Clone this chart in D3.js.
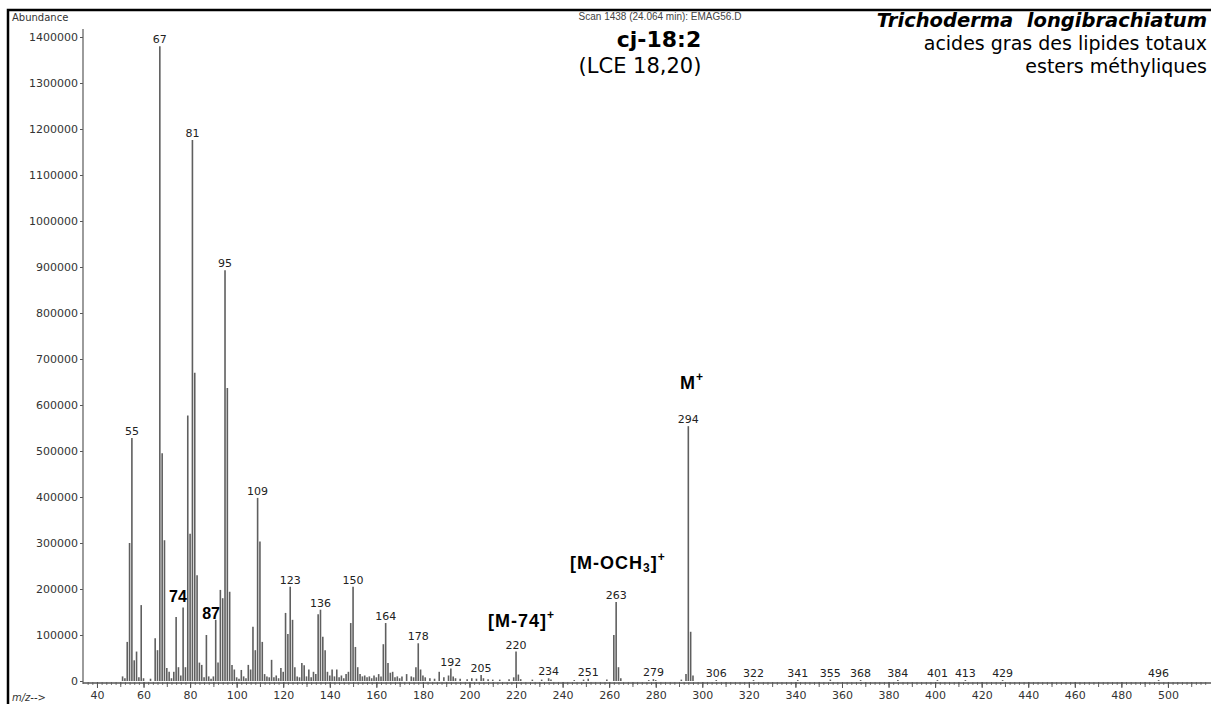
<!DOCTYPE html>
<html>
<head>
<meta charset="utf-8">
<script src="https://cdn.jsdelivr.net/npm/d3@7"></script>
<style>
  html, body { margin: 0; padding: 0; background: #fff; }
  svg { display: block; }
  .axisText { font-family: 'DejaVu Sans', sans-serif; font-size: 11px; fill: #333; }
  .peakLabel { font-family: 'DejaVu Sans', sans-serif; font-size: 11px; fill: #222; }
  .annot { font-family: 'Liberation Sans', Arial, sans-serif; font-size: 18px; font-weight: bold; fill: #000; letter-spacing: 1px; }
  .annot.small { font-size: 16px; letter-spacing: 0; }
</style>
</head>
<body>
<svg id="chart"></svg>
<script>
//
// Data
//

// m/z of every line and its abundance
const mzValues = [
  51, 52, 53, 54, 55, 56, 57, 58, 59, 60, 63, 65, 66, 67, 68, 69,
  70, 71, 72, 73, 74, 75, 76, 77, 78, 79, 80, 81, 82, 83, 84, 85, 86, 87, 88, 89,
  90, 91, 92, 93, 94, 95, 96, 97, 98, 99, 100, 101, 102, 103, 104, 105, 106, 107, 108, 109,
  110, 111, 112, 113, 114, 115, 116, 117, 118, 119, 120, 121, 122, 123, 124, 125, 126, 127, 128, 129,
  130, 131, 132, 133, 134, 135, 136, 137, 138, 139, 140, 141, 142, 143, 144, 145, 146, 147, 148, 149,
  150, 151, 152, 153, 154, 155, 156, 157, 158, 159, 160, 161, 162, 163, 164, 165, 166, 167, 168, 169,
  170, 171, 173, 175, 176, 177, 178, 179, 180, 181, 183, 185, 187, 189, 191, 192, 193, 194, 196, 199,
  201, 203, 205, 206, 208, 210, 213, 217, 219, 220, 221, 222, 227, 231, 234, 235, 245, 249, 251, 259,
  262, 263, 264, 265, 277, 279, 280, 291, 293, 294, 295, 296, 306, 322, 341, 355, 368, 384, 401, 413,
  429, 496
];
const abundances = [
  10000, 6000, 85000, 300000, 528000, 45000, 64000, 8000, 165000, 6000, 5000, 93000, 67000, 1380000, 495000, 306000,
  28000, 20000, 6000, 20000, 139000, 30000, 12000, 160000, 30000, 577000, 320000, 1176000, 670000, 230000, 40000, 35000, 8000, 100000, 10000, 5000,
  10000, 133000, 40000, 198000, 180000, 893000, 637000, 194000, 35000, 25000, 8000, 5000, 24000, 10000, 6000, 35000, 25000, 118000, 67000, 398000,
  303000, 85000, 15000, 10000, 8000, 46000, 8000, 12000, 6000, 28000, 20000, 148000, 102000, 205000, 133000, 30000, 10000, 8000, 39000, 34000,
  10000, 25000, 8000, 20000, 15000, 145000, 155000, 96000, 67000, 20000, 12000, 25000, 10000, 25000, 8000, 12000, 6000, 15000, 20000, 126000,
  205000, 74000, 30000, 15000, 10000, 12000, 8000, 10000, 6000, 12000, 8000, 15000, 10000, 80000, 126000, 39000, 18000, 20000, 8000, 10000,
  6000, 10000, 15000, 10000, 8000, 30000, 82000, 25000, 12000, 8000, 6000, 5000, 20000, 8000, 12000, 27000, 10000, 6000, 5000, 4000,
  6000, 5000, 13000, 6000, 4000, 3000, 3000, 4000, 8000, 64000, 14000, 4000, 3000, 3000, 6000, 3000, 2000, 3000, 5000, 3000,
  100000, 172000, 30000, 6000, 2000, 4000, 2000, 3000, 15000, 554000, 107000, 12000, 2000, 2000, 2000, 3000, 2000, 2000, 2000, 2000,
  2000, 2000
];

// lines that carry their m/z above them
const labelledMz = [55, 67, 81, 95, 109, 123, 136, 150, 164, 178, 192, 205, 220, 234, 251,
  263, 279, 294, 306, 322, 341, 355, 368, 384, 401, 413, 429, 496];

// bold fragment annotations: text, sub/superscript parts, m/z and abundance of the anchor
const annotText = ['74', '87', '[M-74]', '[M-OCH', 'M'];
const annotSub = ['', '', '', '3', ''];
const annotTail = ['', '', '', ']', ''];
const annotSup = ['', '', '+', '+', '+'];
const annotMz = [74.8, 89, 208, 243.2, 290.4];
const annotAbund = [171700, 134800, 117000, 243500, 634800];
const annotAnchor = ['middle', 'middle', 'start', 'start', 'start'];

// axis ticks
const yTicks = [0, 100000, 200000, 300000, 400000, 500000, 600000, 700000,
  800000, 900000, 1000000, 1100000, 1200000, 1300000, 1400000];
const xTicks = [40, 60, 80, 100, 120, 140, 160, 180, 200, 220, 240, 260, 280, 300,
  320, 340, 360, 380, 400, 420, 440, 460, 480, 500];

// header texts
const scanText = 'Scan 1438 (24.064 min): EMAG56.D';
const titleText = 'cj-18:2';
const subTitleText = '(LCE 18,20)';
const speciesText = 'Trichoderma  longibrachiatum';
const infoLines = ['acides gras des lipides totaux', 'esters méthyliques'];

//
// Set-up
//

const width = 1211;
const height = 704;

const svg = d3.select('#chart')
  .attr('width', width)
  .attr('height', height);

const xScale = d3.scaleLinear()
  .domain([34, 518.5])
  .range([83, 1211]);

const yScale = d3.scaleLinear()
  .domain([0, 1400000])
  .range([681, 37]);

// frame (top and left rule)
svg.append('path')
  .attr('d', `M8,704 L8,10 L${width},10`)
  .attr('fill', 'none')
  .attr('stroke', '#000')
  .attr('stroke-width', 2.5);

//
// Axes
//

const yAxis = d3.axisLeft(yScale)
  .tickValues(yTicks)
  .tickSize(3)
  .tickPadding(2)
  .tickFormat(d => d);

const yAxisG = svg.append('g')
  .attr('transform', 'translate(83,0)')
  .call(yAxis);
yAxisG.select('.domain').remove();
yAxisG.selectAll('line').attr('stroke', '#555');
yAxisG.selectAll('text').attr('class', 'axisText').attr('font-family', null).attr('font-size', null);

// y axis line runs a bit above the top tick
svg.append('line')
  .attr('x1', 83).attr('x2', 83)
  .attr('y1', 29).attr('y2', 684)
  .attr('stroke', '#666')
  .attr('stroke-width', 1.3);

// x axis: minor ticks every 2, medium every 10, labelled every 20
const xAxisY = 683;

const minorAxis = d3.axisBottom(xScale)
  .tickValues(d3.range(36, 518, 2))
  .tickSize(3)
  .tickFormat('');
const minorG = svg.append('g')
  .attr('transform', `translate(0,${xAxisY - 1})`)
  .call(minorAxis);
minorG.select('.domain').remove();
minorG.selectAll('line').attr('stroke', '#777');

const midAxis = d3.axisBottom(xScale)
  .tickValues(d3.range(40, 518, 10))
  .tickSize(5)
  .tickFormat('');
const midG = svg.append('g')
  .attr('transform', `translate(0,${xAxisY - 1})`)
  .call(midAxis);
midG.select('.domain').remove();
midG.selectAll('line').attr('stroke', '#666');

const xAxis = d3.axisBottom(xScale)
  .tickValues(xTicks)
  .tickSize(6)
  .tickPadding(3)
  .tickFormat(d => d);
const xAxisG = svg.append('g')
  .attr('transform', `translate(0,${xAxisY - 1})`)
  .call(xAxis);
xAxisG.select('.domain').remove();
xAxisG.selectAll('line').attr('stroke', '#555');
xAxisG.selectAll('text').attr('class', 'axisText').attr('font-family', null).attr('font-size', null);

svg.append('line')
  .attr('x1', 83).attr('x2', width)
  .attr('y1', xAxisY).attr('y2', xAxisY)
  .attr('stroke', '#555')
  .attr('stroke-width', 1.4);

svg.append('text')
  .attr('class', 'axisText')
  .attr('x', 12)
  .attr('y', 701)
  .style('font-size', '10px')
  .style('font-style', 'italic')
  .text('m/z-->');

svg.append('text')
  .attr('class', 'axisText')
  .attr('x', 12)
  .attr('y', 21)
  .style('font-size', '10px')
  .text('Abundance');

//
// Spectrum lines
//

const peaks = mzValues.map((m, i) => ({ mz: m, ab: abundances[i] }));

svg.append('g')
  .attr('class', 'peaks')
  .selectAll('line')
  .data(peaks)
  .enter().append('line')
    .attr('x1', d => xScale(d.mz))
    .attr('x2', d => xScale(d.mz))
    .attr('y1', yScale(0))
    .attr('y2', d => yScale(d.ab))
    .attr('stroke', '#5f5f5f')
    .attr('stroke-width', 1.6);

// m/z labels above the labelled lines
svg.append('g')
  .selectAll('text')
  .data(peaks.filter(d => labelledMz.includes(d.mz)))
  .enter().append('text')
    .attr('class', 'peakLabel')
    .attr('text-anchor', 'middle')
    .attr('x', d => xScale(d.mz))
    .attr('y', d => Math.min(yScale(d.ab) - 3, 677))
    .text(d => d.mz);

//
// Fragment annotations
//

annotText.forEach((t, i) => {
  const txt = svg.append('text')
    .attr('class', annotSup[i] ? 'annot' : 'annot small')
    .attr('text-anchor', annotAnchor[i])
    .attr('x', xScale(annotMz[i]))
    .attr('y', yScale(annotAbund[i]));
  txt.append('tspan').text(t);
  if (annotSub[i]) {
    txt.append('tspan').attr('dy', 3).style('font-size', '12px').text(annotSub[i]);
    txt.append('tspan').attr('dy', -3).text(annotTail[i]);
  }
  if (annotSup[i]) {
    txt.append('tspan').attr('dy', -8).style('font-size', '12px').text(annotSup[i]);
  }
});

//
// Header texts
//

svg.append('text')
  .attr('x', 660).attr('y', 20)
  .attr('text-anchor', 'middle')
  .style('font-family', "'Liberation Sans', Arial, sans-serif")
  .style('font-size', '10px')
  .style('fill', '#444')
  .text(scanText);

svg.append('text')
  .attr('x', 659).attr('y', 47)
  .attr('text-anchor', 'middle')
  .style('font-family', "'DejaVu Sans', Verdana, sans-serif")
  .style('font-weight', 'bold')
  .style('font-size', '22px')
  .text(titleText);

svg.append('text')
  .attr('x', 640).attr('y', 73)
  .attr('text-anchor', 'middle')
  .style('font-family', "'DejaVu Sans', Verdana, sans-serif")
  .style('font-size', '21px')
  .text(subTitleText);

svg.append('text')
  .attr('x', 1207).attr('y', 27)
  .attr('text-anchor', 'end')
  .style('font-family', "'DejaVu Sans', Verdana, sans-serif")
  .style('font-weight', 'bold')
  .style('font-style', 'italic')
  .style('font-size', '19.5px')
  .style('white-space', 'pre')
  .text(speciesText);

svg.selectAll('.info')
  .data(infoLines)
  .enter().append('text')
    .attr('class', 'info')
    .attr('x', 1207)
    .attr('y', (d, i) => 50 + i * 22.5)
    .attr('text-anchor', 'end')
    .style('font-family', "'DejaVu Sans', Verdana, sans-serif")
    .style('font-size', '19px')
    .text(d => d);
</script>
</body>
</html>
